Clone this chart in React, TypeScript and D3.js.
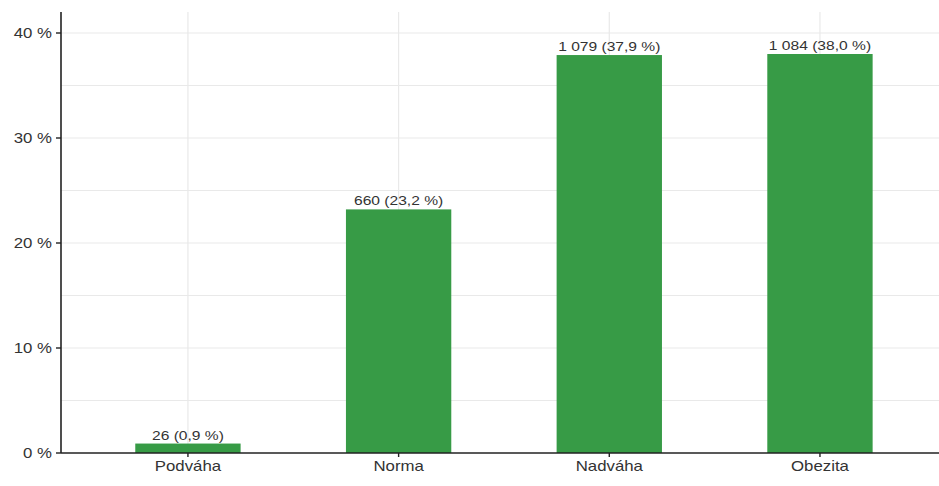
import React from "react";
import * as d3 from "d3";

const categories = ["Podváha", "Norma", "Nadváha", "Obezita"];
const percents = [0.9, 23.2, 37.9, 38.0];
const counts = ["26", "660", "1 079", "1 084"];
const yTicks = [0, 10, 20, 30, 40];
const yGrid = [5, 10, 15, 20, 25, 30, 35, 40];

const W = 939;
const H = 486;
const left = 61;
const bottom = 453;

export default function App() {
  const x = d3
    .scaleBand<string>()
    .domain(categories)
    .range([82.6, 925.3])
    .paddingInner(0.5)
    .paddingOuter(0.25);
  const y = d3.scaleLinear().domain([0, 42]).range([bottom, 12]);
  const fmt = (v: number) => v.toFixed(1).replace(".", ",");
  const font = "'Liberation Sans', Arial, sans-serif";
  const sx = 1.2;

  return (
    <svg
      width={W}
      height={H}
      style={{ position: "absolute", left: 0, top: 0, background: "#fff" }}
      fontFamily={font}
    >
      {yGrid.map((t) => (
        <line key={"g" + t} x1={left} x2={W} y1={y(t)} y2={y(t)} stroke="#e9e9e9" strokeWidth={1.2} />
      ))}
      {categories.map((c) => (
        <line
          key={"v" + c}
          x1={x(c)! + x.bandwidth() / 2}
          x2={x(c)! + x.bandwidth() / 2}
          y1={12}
          y2={bottom}
          stroke="#e9e9e9"
          strokeWidth={1.2}
        />
      ))}
      {categories.map((c, i) => (
        <g key={"b" + c}>
          <rect
            x={x(c)}
            y={y(percents[i])}
            width={x.bandwidth()}
            height={bottom - y(percents[i])}
            fill="#379b46"
          />
          <text
            transform={`translate(${x(c)! + x.bandwidth() / 2},${y(percents[i]) - 4}) scale(${sx},1)`}
            textAnchor="middle"
            fontSize={13}
            fill="#333"
          >
            {`${counts[i]} (${fmt(percents[i])} %)`}
          </text>
        </g>
      ))}
      <line x1={left} x2={left} y1={12} y2={bottom} stroke="#222" strokeWidth={1.6} />
      <line x1={left} x2={W} y1={bottom} y2={bottom} stroke="#222" strokeWidth={1.6} />
      {yTicks.map((t) => (
        <g key={"t" + t}>
          <line x1={left - 5} x2={left} y1={y(t)} y2={y(t)} stroke="#222" strokeWidth={1.4} />
          <text
            transform={`translate(${left - 9},${y(t)}) scale(${sx},1)`}
            dy="0.36em"
            textAnchor="end"
            fontSize={14}
            fill="#333"
          >
            {`${t} %`}
          </text>
        </g>
      ))}
      {categories.map((c) => (
        <g key={"x" + c}>
          <line
            x1={x(c)! + x.bandwidth() / 2}
            x2={x(c)! + x.bandwidth() / 2}
            y1={bottom}
            y2={bottom + 4}
            stroke="#222"
            strokeWidth={1.4}
          />
          <text
            transform={`translate(${x(c)! + x.bandwidth() / 2},${bottom + 18}) scale(${sx},1)`}
            textAnchor="middle"
            fontSize={14}
            fill="#333"
          >
            {c}
          </text>
        </g>
      ))}
    </svg>
  );
}
